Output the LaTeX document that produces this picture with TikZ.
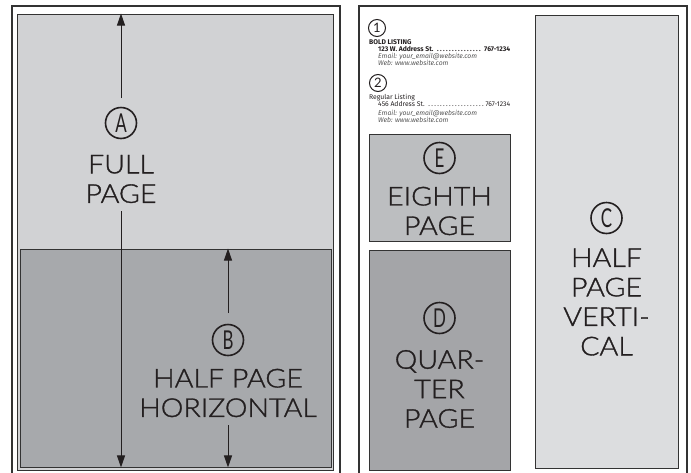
\documentclass[tikz,border=0pt]{standalone}
\usepackage{fontspec}
\usepackage{graphicx}
\setmainfont{Lato Light}[FakeStretch=1.1, FakeBold=1.2]
\newfontfamily\circfont{Lato}
\newfontfamily\listfont{Fira Sans}
\usetikzlibrary{arrows.meta}
\definecolor{fullg}{HTML}{D1D2D4}
\definecolor{halfhg}{HTML}{A7A9AC}
\definecolor{halfvg}{HTML}{DCDDDF}
\definecolor{eighthg}{HTML}{BCBEC0}
\definecolor{quarterg}{HTML}{A4A5A8}
\definecolor{frameg}{HTML}{333333}
\definecolor{txt}{HTML}{231F20}
\definecolor{listg}{HTML}{555555}
\tikzset{
  pagebox/.style={draw=frameg, line width=0.9pt, rectangle, inner sep=0pt},
  frameline/.style={draw=frameg, line width=2pt},
  arr/.style={draw=txt, line width=1pt, -{Triangle[length=12pt,width=8pt]}},
  circ/.style={draw=txt, circle, line width=1.6pt, minimum size=31pt, inner sep=0pt, text=txt, font=\circfont\fontsize{26}{26}\selectfont},
  numcirc/.style={draw=txt, circle, line width=1pt, minimum size=17pt, inner sep=0pt, text=txt, font=\circfont\fontsize{13}{13}\selectfont},
  biglabel/.style={align=center, text=txt, inner sep=0pt, font=\fontsize{26}{29.5}\selectfont},
  listbold/.style={anchor=base west, inner sep=0pt, text=txt, font=\listfont\bfseries\fontsize{6.8}{7}\selectfont},
  listreg/.style={anchor=base west, inner sep=0pt, text=txt, font=\listfont\fontsize{6.8}{7}\selectfont},
  listit/.style={anchor=base west, inner sep=0pt, text=listg, font=\listfont\itshape\fontsize{6.8}{7}\selectfont}
}
\begin{document}
\begin{tikzpicture}[x=1pt,y=-1pt]
\useasboundingbox (0,0) rectangle (691,472);
% frames
\draw[frameline] (12,473) -- (12,6) -- (340,6) -- (340,473);
\draw[frameline] (359,473) -- (359,6) -- (687,6) -- (687,473);
% left page boxes
\node[pagebox, fill=fullg, minimum width=316pt, minimum height=456pt] (full) at (175,242) {};
\node[pagebox, fill=halfhg, minimum width=311pt, minimum height=218pt] (halfh) at (175.5,358) {};
% right page boxes
\node[pagebox, fill=halfvg, minimum width=143pt, minimum height=453pt] (halfv) at (606.5,241.5) {};
\node[pagebox, fill=eighthg, minimum width=141pt, minimum height=107pt] (eighth) at (439.5,187.5) {};
\node[pagebox, fill=quarterg, minimum width=141pt, minimum height=220pt] (quarter) at (439.5,360) {};
% labels A
\node[circ] (circA) at (121,123) {\scalebox{0.65}[1]{A}};
\node[biglabel] (labA) at (121,179) {FULL\\PAGE};
\coordinate (aup) at (121,98);
\coordinate (adown) at (121,211);
\draw[arr] (aup) -- (full.north -| aup);
\draw[arr] (adown) -- (halfh.south -| adown);
% labels B
\node[circ] (circB) at (228,340) {\scalebox{0.65}[1]{B}};
\node[biglabel] (labB) at (228,393) {HALF PAGE\\HORIZONTAL};
\coordinate (bup) at (228,313);
\coordinate (bdown) at (228,425);
\draw[arr] (bup) -- (halfh.north -| bup);
\draw[arr] (bdown) -- (halfh.south -| bdown);
% labels C
\node[circ] (circC) at (606.5,218) {\scalebox{0.65}[1]{C}};
\node[biglabel] (labC) at (606.5,302) {HALF\\PAGE\\VERTI-\\CAL};
% labels E
\node[circ] (circE) at (439.5,158) {\scalebox{0.65}[1]{E}};
\node[biglabel] (labE) at (439.5,211) {EIGHTH\\PAGE};
% labels D
\node[circ] (circD) at (439.5,318) {\scalebox{0.65}[1]{D}};
\node[biglabel] (labD) at (439.5,389) {QUAR-\\TER\\PAGE};
% listings
\node[numcirc] (n1) at (377,28) {1};
\node[listbold] (l1a) at (369,44) {BOLD LISTING};
\node[listbold] (l1b) at (378,51) {\makebox[132pt][l]{123 W. Address St.\ \dotfill\ 767-1234}};
\node[listit] (l1c) at (378,58) {Email: your\_email@website.com};
\node[listit] (l1d) at (378,65) {Web: www.website.com};
\node[numcirc] (n2) at (378,83) {2};
\node[listreg] (l2a) at (369,99) {Regular Listing};
\node[listreg] (l2b) at (378,106) {\makebox[132pt][l]{456 Address St.\ \dotfill 767-1234}};
\node[listit] (l2c) at (378,115) {Email: your\_email@website.com};
\node[listit] (l2d) at (378,122) {Web: www.website.com};
\end{tikzpicture}
\end{document}
